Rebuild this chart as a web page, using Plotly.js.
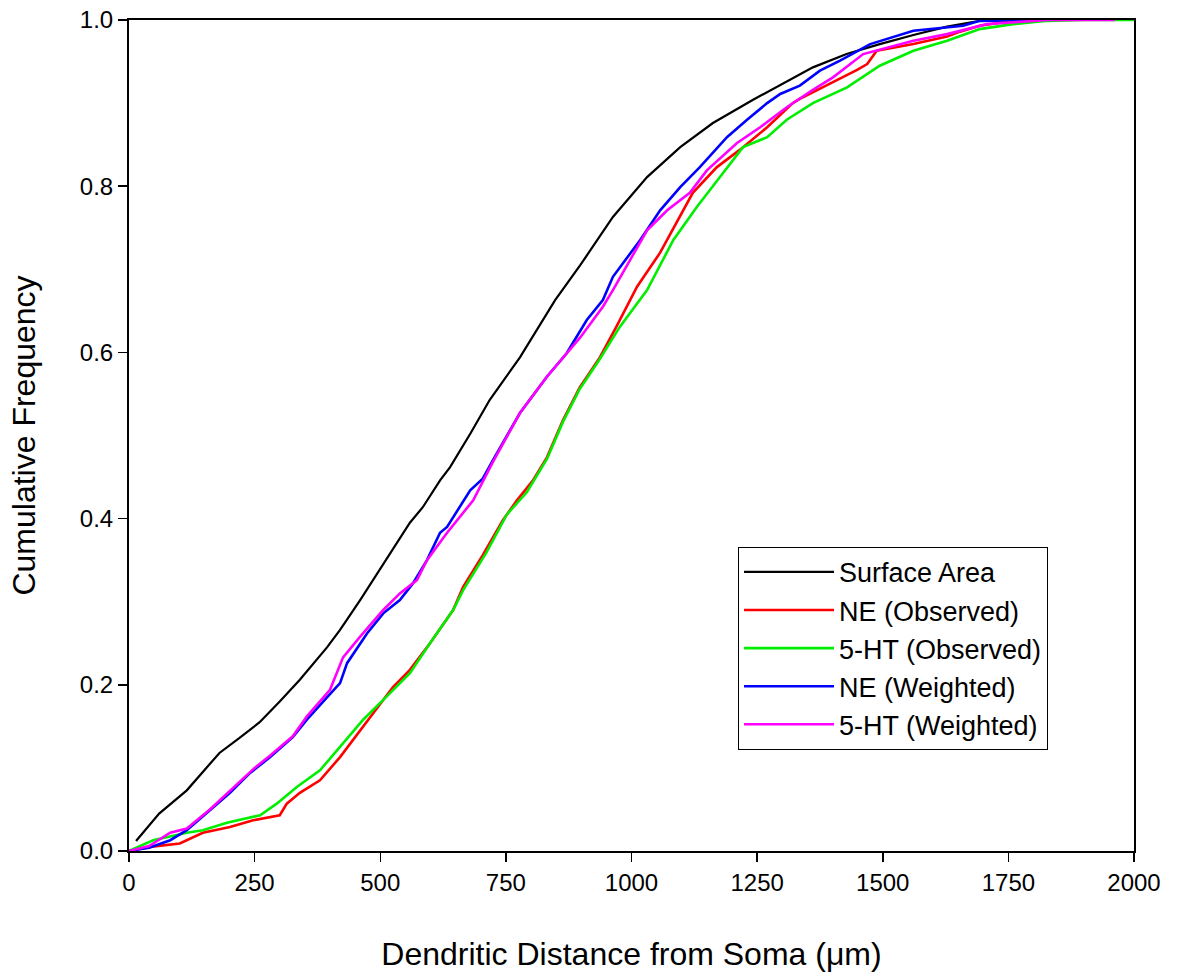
<!DOCTYPE html>
<html>
<head>
<meta charset="utf-8">
<script src="https://cdn.plot.ly/plotly-3.0.1.min.js"></script>
<style>html,body{margin:0;padding:0;background:#fff;}#chart{width:1181px;height:974px;}</style>
</head>
<body>
<div id="chart"></div>
<script>
// Surface Area
const surfX = [14, 60, 115, 180, 220, 260, 300, 340, 394, 420, 460, 500, 559, 585, 619, 639, 680, 718, 778, 848, 898, 963, 1031, 1097, 1162, 1242, 1300, 1361, 1428, 1494, 1561, 1628, 1693, 1750, 1800];
const surfY = [0.012, 0.045, 0.073, 0.118, 0.136, 0.155, 0.18, 0.206, 0.245, 0.266, 0.302, 0.34, 0.395, 0.414, 0.446, 0.462, 0.503, 0.543, 0.594, 0.663, 0.705, 0.763, 0.811, 0.847, 0.876, 0.904, 0.923, 0.943, 0.959, 0.971, 0.982, 0.992, 0.999, 1.0, 1.0];

// NE (Observed)
const neObsX = [0, 42, 101, 147, 201, 247, 300, 314, 340, 380, 420, 446, 486, 525, 559, 599, 645, 665, 704, 744, 772, 804, 832, 864, 897, 937, 970, 1011, 1057, 1090, 1122, 1170, 1216, 1270, 1321, 1335, 1395, 1449, 1469, 1488, 1561, 1628, 1654, 1693, 1759, 1827];
const neObsY = [0, 0.005, 0.009, 0.022, 0.029, 0.037, 0.043, 0.057, 0.07, 0.085, 0.113, 0.134, 0.166, 0.197, 0.218, 0.25, 0.29, 0.318, 0.356, 0.398, 0.422, 0.446, 0.474, 0.519, 0.558, 0.594, 0.631, 0.679, 0.72, 0.756, 0.792, 0.823, 0.844, 0.871, 0.9, 0.905, 0.923, 0.94, 0.947, 0.963, 0.971, 0.98, 0.986, 0.993, 0.999, 1.0];

// 5-HT (Observed)
const htObsX = [0, 48, 115, 147, 195, 261, 294, 334, 380, 426, 466, 513, 559, 599, 645, 665, 712, 752, 792, 832, 864, 897, 937, 977, 1031, 1083, 1130, 1176, 1222, 1270, 1309, 1361, 1429, 1494, 1561, 1628, 1693, 1759, 1827, 1900, 2000];
const htObsY = [0, 0.013, 0.022, 0.025, 0.034, 0.043, 0.057, 0.077, 0.097, 0.13, 0.158, 0.186, 0.214, 0.25, 0.29, 0.314, 0.36, 0.405, 0.432, 0.472, 0.517, 0.556, 0.592, 0.631, 0.675, 0.735, 0.775, 0.811, 0.847, 0.859, 0.88, 0.9, 0.919, 0.945, 0.963, 0.975, 0.989, 0.995, 0.999, 1.0, 1.0];

// NE (Weighted)
const neWX = [0, 40, 82, 115, 161, 201, 241, 281, 326, 354, 394, 420, 434, 474, 506, 539, 565, 593, 619, 633, 679, 704, 724, 778, 832, 871, 911, 943, 963, 1017, 1057, 1097, 1136, 1190, 1230, 1270, 1296, 1335, 1375, 1415, 1475, 1561, 1660, 1693, 1807];
const neWY = [0, 0.004, 0.013, 0.025, 0.049, 0.07, 0.094, 0.113, 0.137, 0.158, 0.185, 0.202, 0.226, 0.262, 0.286, 0.302, 0.322, 0.35, 0.383, 0.39, 0.434, 0.448, 0.47, 0.527, 0.571, 0.599, 0.639, 0.663, 0.691, 0.735, 0.771, 0.799, 0.823, 0.859, 0.88, 0.9, 0.911, 0.921, 0.939, 0.951, 0.971, 0.987, 0.993, 0.999, 1.0];

// 5-HT (Weighted)
const htWX = [0, 40, 82, 115, 161, 201, 250, 281, 326, 354, 400, 426, 460, 506, 539, 573, 593, 633, 685, 724, 778, 832, 871, 898, 943, 963, 1031, 1071, 1116, 1150, 1210, 1256, 1309, 1361, 1401, 1461, 1561, 1628, 1707, 1827, 1962];
const htWY = [0, 0.006, 0.022, 0.027, 0.05, 0.072, 0.1, 0.115, 0.138, 0.162, 0.194, 0.233, 0.258, 0.29, 0.31, 0.326, 0.35, 0.383, 0.422, 0.468, 0.527, 0.571, 0.599, 0.618, 0.655, 0.675, 0.747, 0.771, 0.792, 0.819, 0.852, 0.871, 0.895, 0.916, 0.931, 0.959, 0.975, 0.983, 0.995, 1.0, 1.0];

const xTicks = [0, 250, 500, 750, 1000, 1250, 1500, 1750, 2000];
const yTicks = [0, 0.2, 0.4, 0.6, 0.8, 1.0];

const font = 'Arial, "Liberation Sans", sans-serif';

const traces = [
  {x: surfX, y: surfY, name: 'Surface Area', mode: 'lines', line: {color: '#000000', width: 2.2}},
  {x: neObsX, y: neObsY, name: 'NE (Observed)', mode: 'lines', line: {color: '#ff0000', width: 2.6}},
  {x: htObsX, y: htObsY, name: '5-HT (Observed)', mode: 'lines', line: {color: '#00ee00', width: 2.6}},
  {x: neWX, y: neWY, name: 'NE (Weighted)', mode: 'lines', line: {color: '#0000ff', width: 2.6}},
  {x: htWX, y: htWY, name: '5-HT (Weighted)', mode: 'lines', line: {color: '#ff00ff', width: 2.6}}
];

const layout = {
  width: 1181, height: 974,
  margin: {l: 129, r: 47, t: 20, b: 123},
  paper_bgcolor: '#ffffff', plot_bgcolor: '#ffffff',
  font: {family: font, size: 24, color: '#000'},
  showlegend: true,
  legend: {
    x: 0.606, y: 0.366, xanchor: 'left', yanchor: 'top',
    bordercolor: '#000', borderwidth: 1, bgcolor: '#fff',
    font: {family: font, size: 27, color: '#000'},
    itemwidth: 90,
    tracegroupgap: 0
  },
  xaxis: {
    range: [0, 2000], tickvals: xTicks, ticktext: xTicks.map(String),
    ticks: 'outside', ticklen: 9, tickwidth: 1.5, tickcolor: '#000',
    showline: true, linecolor: '#000', linewidth: 2, mirror: true,
    showgrid: false, zeroline: false,
    tickfont: {family: font, size: 24, color: '#000'},
    title: {text: 'Dendritic Distance from Soma (\u03bcm)', font: {family: font, size: 32, color: '#000'}, standoff: 48}
  },
  yaxis: {
    range: [0, 1], tickvals: yTicks, ticktext: yTicks.map(v => v.toFixed(1)),
    ticks: 'outside', ticklen: 9, tickwidth: 1.5, tickcolor: '#000',
    showline: true, linecolor: '#000', linewidth: 2, mirror: true,
    showgrid: false, zeroline: false,
    tickfont: {family: font, size: 24, color: '#000'},
    title: {text: 'Cumulative Frequency', font: {family: font, size: 32, color: '#000'}, standoff: 35}
  }
};

Plotly.newPlot('chart', traces, layout, {displayModeBar: false, staticPlot: true});
</script>
</body>
</html>
